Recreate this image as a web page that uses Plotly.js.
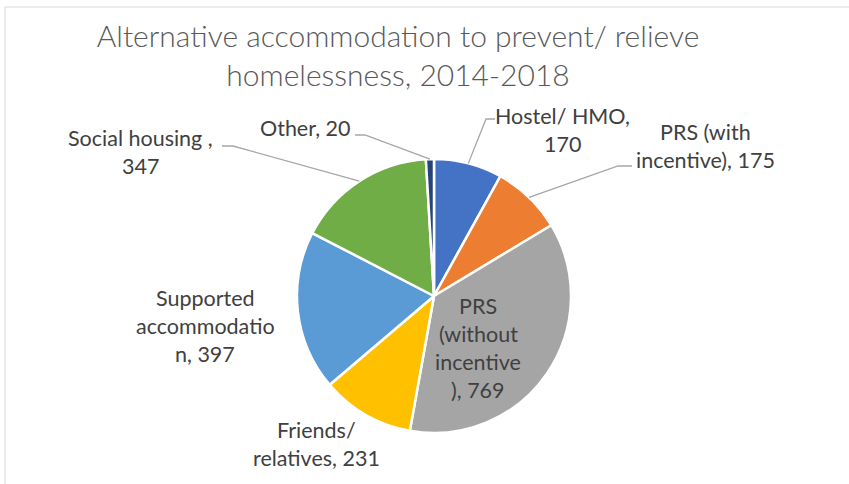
<!DOCTYPE html>
<html>
<head>
<meta charset="utf-8">
<script src="https://cdn.plot.ly/plotly-3.0.1.min.js"></script>
<style>html,body{margin:0;padding:0;background:#fff;}#chart{width:849px;height:484px;}</style>
</head>
<body>
<div id="chart"></div>
<script>
// ---- data ----
const labels = ["Hostel/ HMO", "PRS (with incentive)", "PRS (without incentive)", "Friends/ relatives", "Supported accommodation", "Social housing ", "Other"];
const values = [170, 175, 769, 231, 397, 347, 20];
const colors = ["#4472C4", "#ED7D31", "#A5A5A5", "#FFC000", "#5B9BD5", "#70AD47", "#264478"];
const titleText = "Alternative accommodation to prevent/ relieve<br>homelessness, 2014-2018";

// ---- layout config (pixel positions) ----
const W = 849, H = 484;
const cx = 434, cy = 296, R = 137;
const lineGap = 28;
// label placement: center x, first line y, break indices, leader elbow points (label end, elbow)
const labelPlace = [
  {x: 562, y: 116, breaks: [12], leader: [[495, 119], [486, 119]]},
  {x: 705, y: 132, breaks: [9], leader: [[632, 166], [618, 166]]},
  {x: 478, y: 306, breaks: [3, 12, 22], leader: null},
  {x: 316, y: 430, breaks: [8], leader: null},
  {x: 205, y: 298, breaks: [9, 22], leader: null},
  {x: 140, y: 138, breaks: [16], leader: [[222, 146], [233, 146]]},
  {x: 305, y: 128, breaks: [], leader: [[355, 135], [365, 135]]}
];

const px = x => x / W;
const py = y => 1 - y / H;

const total = values.reduce((a, b) => a + b, 0);
const annotations = [];
const shapes = [];
let cum = 0;
values.forEach((v, i) => {
  const mid = (cum + v / 2) / total;
  cum += v;
  const ang = mid * 2 * Math.PI;
  const full = labels[i] + ", " + v;
  const pl = labelPlace[i];
  const cuts = [0, ...pl.breaks, full.length];
  const lines = [];
  for (let k = 0; k < cuts.length - 1; k++) lines.push(full.slice(cuts[k], cuts[k + 1]).trim());
  lines.forEach((ln, k) => {
    annotations.push({
      text: ln, showarrow: false, xref: 'paper', yref: 'paper',
      x: px(pl.x), y: py(pl.y + k * lineGap), xanchor: 'center', yanchor: 'middle',
      font: {family: 'Lato, sans-serif', size: 21.5, color: '#404040'}
    });
  });
  if (pl.leader) {
    const ex = cx + R * Math.sin(ang), ey = cy - R * Math.cos(ang);
    const pts = [...pl.leader, [ex, ey]];
    const d = pts.map((p, k) => (k ? 'L' : 'M') + px(p[0]) + ',' + py(p[1])).join(' ');
    shapes.push({type: 'path', xref: 'paper', yref: 'paper', path: d, line: {color: '#A6A6A6', width: 1.3}});
  }
});

// chart frame
shapes.push({type: 'rect', xref: 'paper', yref: 'paper', x0: px(5), x1: px(860), y0: py(7), y1: py(500), line: {color: '#D9D9D9', width: 1}, fillcolor: 'rgba(0,0,0,0)', layer: 'below'});

const trace = {
  type: 'pie', labels: labels, values: values, sort: false, direction: 'clockwise', rotation: 0,
  marker: {colors: colors, line: {color: '#FFFFFF', width: 2.5}},
  textinfo: 'none', hoverinfo: 'label+value', showlegend: false,
  domain: {x: [px(cx - R), px(cx + R)], y: [py(cy + R), py(cy - R)]}
};

const layout = {
  width: W, height: H, margin: {l: 0, r: 0, t: 0, b: 0},
  paper_bgcolor: '#FFFFFF', plot_bgcolor: '#FFFFFF', showlegend: false,
  title: {text: titleText, x: px(398), xanchor: 'center', xref: 'paper', yref: 'container', y: 1 - 47 / H, yanchor: 'middle',
          font: {family: 'Lato, sans-serif', size: 30, weight: 300, color: '#595959'}},
  annotations: annotations, shapes: shapes
};

Plotly.newPlot('chart', [trace], layout, {displayModeBar: false, staticPlot: true});
</script>
</body>
</html>
